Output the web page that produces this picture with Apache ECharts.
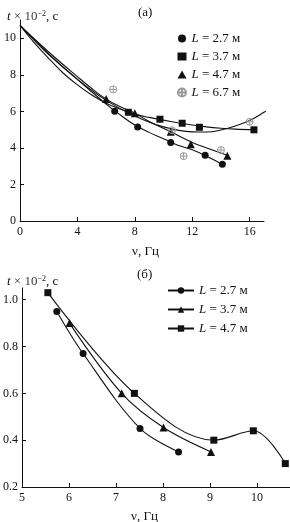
<!DOCTYPE html>
<html>
<head>
<meta charset="utf-8">
<script src="https://cdn.jsdelivr.net/npm/echarts@6/dist/echarts.min.js"></script>
<style>
  html, body { margin: 0; padding: 0; background: #fff; }
  #chart { width: 290px; height: 522px; }
</style>
</head>
<body>
<div id="chart"></div>
<script>
// (а) measured points
const a27 = [[6.6, 6.0], [8.2, 5.15], [10.5, 4.3], [12.9, 3.6], [14.1, 3.1]];
const a37 = [[7.55, 5.95], [9.75, 5.57], [11.3, 5.35], [12.5, 5.13], [16.3, 4.99]];
const a47 = [[6.0, 6.67], [8.0, 5.9], [10.5, 4.88], [11.9, 4.2], [14.45, 3.57]];
const a67 = [[6.5, 7.2], [10.6, 4.97], [11.4, 3.55], [14.0, 3.88], [16.0, 5.43]];

// (а) fitted curves
const fit27 = [[0, 10.7], [2, 9.15], [4, 7.75], [6, 6.4], [7, 5.8], [8, 5.25], [9, 4.85], [10, 4.5], [11, 4.15], [12, 3.9], [13, 3.55], [14.1, 3.1]];
const fit37 = [[0, 10.7], [1, 9.75], [2, 8.9], [3, 8.1], [4, 7.45], [5, 6.9], [6, 6.45], [7, 6.12], [8, 5.85], [9, 5.67], [10, 5.52], [11, 5.38], [12, 5.25], [13, 5.15], [14, 5.08], [15, 5.03], [16.3, 4.99]];
const fit47 = [[0, 10.7], [2, 9.25], [4, 7.9], [5, 7.25], [6, 6.67], [7, 6.25], [8, 5.9], [9, 5.45], [10.5, 4.88], [12, 4.3], [13, 4.0], [14.45, 3.6]];
const fit67 = [[0, 10.7], [2, 9.1], [4, 7.75], [6, 6.6], [8, 5.75], [10, 5.15], [12, 4.88], [13, 4.87], [14, 4.98], [15, 5.2], [16, 5.5], [17, 5.95], [17.7, 6.3]];

// (б) measured points (lines go through them)
const b27 = [[5.74, 0.95], [6.3, 0.77], [7.51, 0.45], [8.33, 0.35]];
const b37 = [[6.01, 0.9], [7.12, 0.6], [8.01, 0.454], [9.02, 0.35]];
const b47 = [[5.55, 1.03], [7.39, 0.6], [9.08, 0.4], [9.92, 0.44], [10.6, 0.3]];

// tick labels
const aXTicks = [0, 4, 8, 12, 16];
const aYTicks = [0, 2, 4, 6, 8, 10];
const bXTicks = [5, 6, 7, 8, 9, 10];
const bYTicks = [0.2, 0.4, 0.6, 0.8, 1.0];

const font = 'Liberation Serif';
const ink = '#111';
const crossCircle = 'path://M10,0A10,10 0 1 1 10,20A10,10 0 1 1 10,0ZM0,10L20,10M10,0L10,20';

const rich = {
  i: { fontFamily: font, fontStyle: 'italic', fontWeight: 'normal', fontSize: 13, color: ink },
  n: { fontFamily: font, fontWeight: 'normal', fontSize: 13, color: ink },
  sup: { fontFamily: font, fontWeight: 'normal', fontSize: 8, color: ink, verticalAlign: 'top', padding: [0, 0, 6, 0] }
};

function axisX(idx, min, max, ticks) {
  return {
    type: 'value', gridIndex: idx, min: min, max: max,
    splitLine: { show: false },
    axisLine: { lineStyle: { color: ink, width: 1 } },
    axisTick: { inside: true, length: 4, lineStyle: { color: ink }, customValues: ticks },
    axisLabel: { color: ink, fontFamily: font, fontSize: 12, margin: 5, customValues: ticks }
  };
}
function axisY(idx, min, max, ticks, fmt) {
  return {
    type: 'value', gridIndex: idx, min: min, max: max,
    splitLine: { show: false },
    axisLine: { show: true, lineStyle: { color: ink, width: 1 } },
    axisTick: { show: true, inside: true, length: 4, lineStyle: { color: ink }, customValues: ticks },
    axisLabel: { color: ink, fontFamily: font, fontSize: 12, margin: 4, customValues: ticks, formatter: fmt }
  };
}
function curve(name, data, xi) {
  return {
    name: name, type: 'line', xAxisIndex: xi, yAxisIndex: xi, data: data,
    smooth: 0.4, showSymbol: false, clip: false, silent: true,
    lineStyle: { color: ink, width: 1.1 }
  };
}
function dots(name, data, symbol, size, style) {
  return {
    name: name, type: 'scatter', xAxisIndex: 0, yAxisIndex: 0, data: data,
    symbol: symbol, symbolSize: size, z: 5,
    itemStyle: style || { color: ink, opacity: 1 }
  };
}
function marked(name, data, symbol, size) {
  return {
    name: name, type: 'line', xAxisIndex: 1, yAxisIndex: 1, data: data,
    smooth: 0.35, symbol: symbol, symbolSize: size, showAllSymbol: true,
    lineStyle: { color: ink, width: 1.1 }, itemStyle: { color: ink, opacity: 1 }
  };
}

const legendNames = {
  'a27': '{i|L} = 2.7 м', 'a37': '{i|L} = 3.7 м', 'a47': '{i|L} = 4.7 м', 'a67': '{i|L} = 6.7 м',
  'b27': '{i|L} = 2.7 м', 'b37': '{i|L} = 3.7 м', 'b47': '{i|L} = 4.7 м'
};

const myChart = echarts.init(document.getElementById('chart'), null, { renderer: 'canvas' });

const option = {
  animation: false,
  backgroundColor: '#fff',
  textStyle: { fontFamily: font },
  title: [
    { text: '(а)', left: 133, top: 1, textStyle: { fontFamily: font, fontWeight: 'normal', fontSize: 13, color: ink } },
    { text: '{i|t} × 10{sup|−2}{n|, с}', left: 2, top: 5, textStyle: { rich: rich, fontSize: 13, fontWeight: 'normal' } },
    { text: 'ν, Гц', left: 127, top: 240, textStyle: { fontFamily: font, fontWeight: 'normal', fontSize: 13, color: ink } },
    { text: '(б)', left: 132, top: 263, textStyle: { fontFamily: font, fontWeight: 'normal', fontSize: 13, color: ink } },
    { text: '{i|t} × 10{sup|−2}{n|, с}', left: 2, top: 270, textStyle: { rich: rich, fontSize: 13, fontWeight: 'normal' } },
    { text: 'ν, Гц', left: 126, top: 505, textStyle: { fontFamily: font, fontWeight: 'normal', fontSize: 13, color: ink } }
  ],
  legend: [
    {
      data: ['a27', 'a37', 'a47', 'a67'], orient: 'vertical', left: 172, top: 27,
      itemWidth: 9, itemHeight: 8, itemGap: 5,
      formatter: (n) => legendNames[n],
      textStyle: { fontFamily: font, fontSize: 13, color: ink, rich: rich }
    },
    {
      data: ['b27', 'b37', 'b47'], orient: 'vertical', left: 162, top: 279,
      itemWidth: 26, itemHeight: 8, itemGap: 6,
      formatter: (n) => legendNames[n],
      textStyle: { fontFamily: font, fontSize: 13, color: ink, rich: rich }
    }
  ],
  grid: [
    { left: 20, right: 26, top: 20, bottom: 301 },
    { left: 21, right: 0, top: 288, bottom: 35 }
  ],
  xAxis: [axisX(0, 0, 17, aXTicks), axisX(1, 5, 10.7, bXTicks)],
  yAxis: [
    axisY(0, 0, 11, aYTicks, (v) => String(v)),
    axisY(1, 0.2, 1.05, bYTicks, (v) => v.toFixed(1))
  ],
  series: [
    curve('c27', fit27, 0),
    curve('c37', fit37, 0),
    curve('c47', fit47, 0),
    curve('c67', fit67, 0),
    dots('a27', a27, 'circle', 7),
    dots('a37', a37, 'rect', 7),
    dots('a47', a47, 'triangle', 8),
    dots('a67', a67, crossCircle, 7, { color: 'rgba(255,255,255,0)', borderColor: '#999', borderWidth: 1, opacity: 1 }),
    marked('b27', b27, 'circle', 7),
    marked('b37', b37, 'triangle', 8),
    marked('b47', b47, 'rect', 7)
  ]
};

if (option && typeof option === 'object') {
  myChart.setOption(option);
}
</script>
</body>
</html>
